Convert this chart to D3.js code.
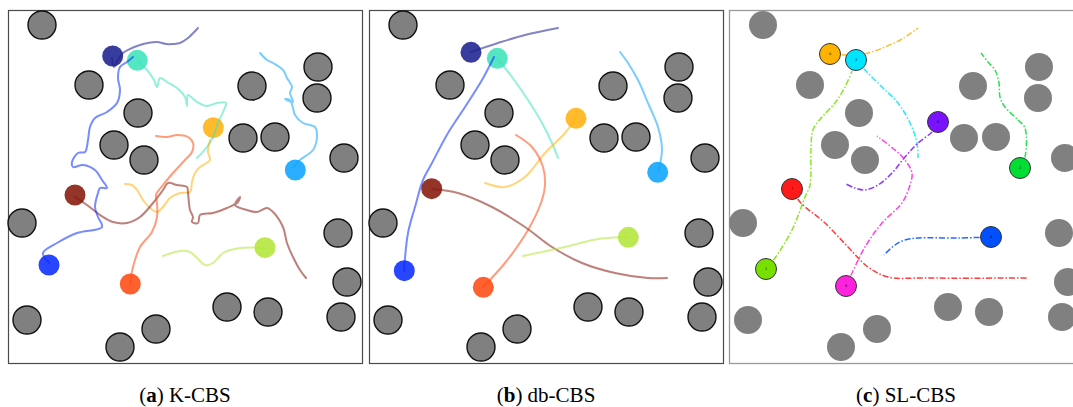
<!DOCTYPE html>
<html>
<head>
<meta charset="utf-8">
<script src="https://cdn.jsdelivr.net/npm/d3@7"></script>
<style>
  html, body { margin: 0; padding: 0; background: #fff; }
  svg { display: block; }
</style>
</head>
<body>
<svg id="fig" width="1073" height="407"></svg>
<script>
// Arena measured in cm, y axis pointing down from the top wall.
const arenaWidth = 354;
const arenaHeight = 353;
const obstacleRadius = 14;
const robotRadius = 10.5;

// Circular obstacles (centre x, centre y).
const obstacles = [
  [34, 15], [81, 75], [130, 103], [106, 135], [136, 150],
  [244, 76], [310, 57], [309, 88], [235, 128], [267, 127],
  [336, 148], [14, 213], [330, 223], [339, 272], [333, 307],
  [219, 297], [260, 302], [19, 310], [148, 319], [112, 337]
];

// Robot order used by every planner below.
const robots = ["r0", "r1", "r2", "r3", "r4", "r5", "r6", "r7"];
const robotIds = ["0", "3", "5", "2", "7", "1", "6", "4"];

const panelTags = ["a", "b", "c"];
const plannerNames = ["K-CBS", "db-CBS", "SL-CBS"];

// ---- K-CBS ----
const kcbsStarts = [
  [104.7, 46], [129.3, 50.3], [205.3, 117.7], [287.3, 160],
  [67, 185], [41, 255], [122.3, 274], [257, 237.7]
];
const kcbsPaths = [
  [[104, 48], [106, 57], [110, 50], [115, 43], [124, 38], [132, 35], [140, 33], [149, 32],
   [158, 34], [165, 34], [172, 33], [180, 28], [190, 18]],
  [[130, 52], [139, 60], [146, 70], [149, 77], [152, 68], [159, 72], [169, 78], [177, 87],
   [179, 96], [180, 85], [189, 92], [199, 96], [209, 93], [218, 93], [215, 102], [210, 113],
   [205, 127], [199, 137], [189, 148]],
  [[202, 130], [200, 142], [202, 150], [192, 157], [187, 163], [184, 172], [182, 182],
   [172, 183], [162, 188], [155, 197], [149, 202], [142, 198], [135, 190], [129, 180],
   [124, 175], [117, 174]],
  [[285, 158], [292, 150], [305, 140], [309, 127], [307, 117], [295, 113], [287, 105],
   [285, 98], [282, 90], [277, 89], [285, 92], [282, 83], [284, 77], [279, 68], [275, 60],
   [265, 53], [259, 50], [252, 43]],
  [[67, 187], [79, 195], [92, 205], [105, 212], [119, 213], [132, 207], [145, 193], [155, 180],
   [160, 173], [169, 175], [179, 177], [180, 183], [182, 200], [185, 207], [184, 212],
   [190, 213], [192, 205], [205, 203], [219, 198], [230, 192], [232, 187], [227, 195],
   [239, 200], [249, 202], [259, 198], [265, 202], [275, 217], [279, 233], [285, 247],
   [292, 260], [298, 268]],
  [[41, 253], [35, 243], [49, 233], [69, 223], [94, 217], [90, 207], [87, 197], [90, 183],
   [92, 178], [99, 178], [94, 170], [87, 160], [75, 155], [65, 157], [64, 152], [70, 143],
   [77, 142], [80, 130], [82, 117], [87, 108], [99, 102], [109, 93], [112, 80], [110, 68],
   [112, 57], [119, 52], [125, 47]],
  [[122, 274], [125, 257], [132, 237], [144, 222], [149, 207], [149, 193], [148, 185],
   [155, 175], [165, 163], [177, 150], [184, 142], [185, 133], [180, 127], [169, 125],
   [159, 127], [148, 126]],
  [[257, 238], [232, 238], [215, 243], [205, 253], [197, 255], [189, 248], [182, 242],
   [172, 241], [155, 246]]
];

// ---- db-CBS ----
const dbcbsStarts = [
  [102, 42.3], [128.3, 48.3], [207, 108.3], [288.7, 162.3],
  [62.7, 178.7], [35.3, 260.7], [114.3, 277.3], [259.3, 227.3]
];
const dbcbsPaths = [
  [[102, 42], [129, 33], [156, 25], [189, 18]],
  [[128, 48], [143, 67], [159, 90], [173, 113], [183, 133], [189, 148]],
  [[207, 108], [196, 123], [176, 143], [156, 167], [136, 177], [116, 173]],
  [[289, 162], [293, 140], [289, 117], [279, 93], [269, 70], [259, 53], [251, 42]],
  [[63, 179], [89, 183], [123, 197], [156, 217], [183, 237], [213, 253], [246, 263],
   [279, 268], [298, 268]],
  [[35, 261], [39, 223], [46, 197], [54, 170], [63, 153], [79, 123], [96, 97], [113, 70], [125, 47]],
  [[114, 277], [136, 253], [159, 220], [173, 190], [176, 175], [174, 157], [163, 137], [147, 125]],
  [[259, 227], [229, 229], [196, 237], [173, 242], [154, 246]]
];

// ---- SL-CBS ----
const slcbsStarts = [
  [101, 44], [127, 50], [209, 112], [291, 158],
  [63, 179], [37, 259], [117, 276], [262, 227]
];
const slcbsPaths = [
  [[101, 44], [127, 45], [139, 43], [156, 37], [173, 29], [189, 18]],
  [[127, 50], [136, 60], [153, 77], [169, 93], [181, 113], [188, 133], [189, 148]],
  [[209, 112], [203, 122], [189, 133], [176, 147], [163, 163], [149, 175], [136, 180],
   [126, 178], [117, 174]],
  [[291, 158], [296, 147], [296, 118], [289, 110], [276, 97], [271, 87], [270, 73],
   [266, 60], [259, 52], [252, 43]],
  [[63, 179], [71, 192], [96, 213], [119, 237], [139, 257], [159, 267], [196, 268], [298, 268]],
  [[37, 259], [46, 248], [63, 220], [76, 187], [81, 175], [82, 140], [84, 120], [93, 107],
   [106, 93], [116, 77], [123, 61]],
  [[117, 276], [123, 263], [136, 237], [153, 213], [173, 193], [181, 175], [183, 163],
   [176, 150], [166, 140], [148, 126]],
  [[262, 227], [229, 228], [189, 228], [176, 230], [166, 235], [155, 245]]
];

// Colour schemes: the first two planners share one, SL-CBS uses its own.
const cbsColors = ["#1c218f", "#3ee3bb", "#ffb20f", "#0ca4ff",
                   "#86190d", "#0a2cff", "#ff4a12", "#b3e63a"];
const slColors = ["#ffb300", "#00e5ff", "#7a12ff", "#00dd33",
                  "#ff1a1a", "#77e000", "#ff22dd", "#0050ff"];

const planners = [
  { starts: kcbsStarts, paths: kcbsPaths },
  { starts: dbcbsStarts, paths: dbcbsPaths },
  { starts: slcbsStarts, paths: slcbsPaths }
];

const panelLeft = [8, 369, 729];
const panelTop = 10;
const panelSize = 354;

const svg = d3.select("#fig");

planners.forEach((planner, pi) => {
  const x = d3.scaleLinear().domain([0, arenaWidth]).range([panelLeft[pi], panelLeft[pi] + panelSize]);
  const y = d3.scaleLinear().domain([0, arenaHeight]).range([panelTop, panelTop + 353]);
  const rPx = v => x(v) - x(0);
  const isSL = pi === 2;
  const g = svg.append("g").attr("class", "panel-" + panelTags[pi]);

  // arena wall
  g.append("rect")
    .attr("x", x(0) + 0.5).attr("y", y(0) + 0.5)
    .attr("width", rPx(arenaWidth)).attr("height", y(arenaHeight) - y(0))
    .attr("fill", "#fff")
    .attr("stroke", isSL ? "#9a9a9a" : "#4a4a4a")
    .attr("stroke-width", isSL ? 1.3 : 1.2);

  // obstacles
  g.selectAll("circle.obstacle").data(obstacles).join("circle")
    .attr("class", "obstacle")
    .attr("cx", d => x(d[0])).attr("cy", d => y(d[1]))
    .attr("r", rPx(obstacleRadius))
    .attr("fill", "#808080")
    .attr("stroke", isSL ? "none" : "#111")
    .attr("stroke-width", 1.4);

  const line = d3.line().x(d => x(d[0])).y(d => y(d[1])).curve(d3.curveCatmullRom.alpha(0.5));

  if (!isSL) {
    // robots (translucent) with trajectories drawn on top
    g.selectAll("circle.robot").data(planner.starts).join("circle")
      .attr("class", "robot")
      .attr("cx", d => x(d[0])).attr("cy", d => y(d[1]))
      .attr("r", rPx(robotRadius))
      .attr("fill", (d, i) => cbsColors[i])
      .attr("fill-opacity", 0.88);

    g.selectAll("path.traj").data(planner.paths).join("path")
      .attr("class", "traj")
      .attr("d", line)
      .attr("fill", "none")
      .attr("stroke", (d, i) => cbsColors[i])
      .attr("stroke-opacity", 0.55)
      .attr("stroke-width", 2)
      .attr("stroke-linecap", "round")
      .attr("stroke-linejoin", "round");
  } else {
    // dash-dot trajectories beneath outlined robots
    g.selectAll("path.traj").data(planner.paths).join("path")
      .attr("class", "traj")
      .attr("d", line)
      .attr("fill", "none")
      .attr("stroke", (d, i) => slColors[i])
      .attr("stroke-opacity", 0.85)
      .attr("stroke-width", 1.5)
      .attr("stroke-dasharray", "6,2,1.5,2");

    const rg = g.selectAll("g.robot").data(planner.starts).join("g").attr("class", "robot");
    rg.append("circle")
      .attr("cx", d => x(d[0])).attr("cy", d => y(d[1]))
      .attr("r", rPx(robotRadius))
      .attr("fill", (d, i) => slColors[i])
      .attr("stroke", "#333")
      .attr("stroke-width", 1);
    rg.append("text")
      .attr("x", d => x(d[0])).attr("y", d => y(d[1]))
      .attr("dy", "0.35em")
      .attr("text-anchor", "middle")
      .attr("font-family", "DejaVu Sans, sans-serif")
      .attr("font-size", 3.5)
      .attr("fill", "#000")
      .text((d, i) => robotIds[i]);
  }

  // caption
  const cap = svg.append("text")
    .attr("x", x(0) + panelSize / 2)
    .attr("y", 402)
    .attr("text-anchor", "middle")
    .attr("font-family", "'Liberation Serif', serif")
    .attr("font-size", 21)
    .attr("fill", "#000");
  cap.append("tspan").text("(");
  cap.append("tspan").attr("font-weight", "bold").text(panelTags[pi]);
  cap.append("tspan").text(") " + plannerNames[pi]);
});
</script>
</body>
</html>
